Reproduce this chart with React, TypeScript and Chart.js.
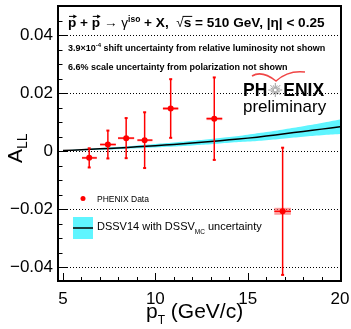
import { useEffect, useRef } from "react";
import { Chart, registerables } from "chart.js";
Chart.register(...registerables);

// ---- data ----
const ptValues = [6.42, 7.43, 8.42, 9.42, 10.83, 13.19, 16.89];
const allValues = [-0.0023, 0.0023, 0.0045, 0.0038, 0.0147, 0.0112, -0.0207];
const statErr = [0.0033, 0.0048, 0.0069, 0.0096, 0.0101, 0.0142, 0.0219];
const binLow = [6.03, 7.01, 7.98, 9.03, 10.41, 12.77, 16.44];
const binHigh = [6.83, 7.86, 8.85, 9.84, 11.24, 13.62, 17.34];
const sysErr = [0.0004, 0.0004, 0.0004, 0.0004, 0.0005, 0.0005, 0.0012];

const theoryPt = [5, 6, 7, 8, 9, 10, 11, 12, 13, 14, 15, 16, 17, 18, 19, 20];
const theoryAll = [0.0002, 0.0005, 0.0008, 0.0011, 0.0015, 0.0019, 0.0023, 0.0028, 0.0033, 0.0039, 0.0045, 0.0052, 0.006, 0.0068, 0.0076, 0.0084];
const theoryUnc = [0.0001, 0.0002, 0.0003, 0.0004, 0.0005, 0.0006, 0.0007, 0.0008, 0.0009, 0.001, 0.0012, 0.0014, 0.0016, 0.0018, 0.0021, 0.0025];

const xMin = 4.73;
const xMax = 20.05;
const yMin = -0.0447;
const yMax = 0.05;
const yMajorTicks = [-0.04, -0.02, 0, 0.02, 0.04];
const yMinorTicks = [-0.035, -0.03, -0.025, -0.015, -0.01, -0.005, 0.005, 0.01, 0.015, 0.025, 0.03, 0.035, 0.045];
const xMajorTicks = [5, 10, 15, 20];
const xMinorTicks = [6, 7, 8, 9, 11, 12, 13, 14, 16, 17, 18, 19];

const FONT = '"Liberation Sans", Arial, Helvetica, sans-serif';
const RED = "#ff0000";
const CYAN = "rgb(95,245,255)";

type Seg = { t: string; size: number; bold?: boolean; dy?: number; arrow?: boolean; overline?: boolean };

function drawRich(ctx: CanvasRenderingContext2D, segs: Seg[], x: number, y: number) {
  let cx = x;
  ctx.textBaseline = "alphabetic";
  ctx.textAlign = "left";
  for (const s of segs) {
    ctx.font = `${s.bold ? "bold " : ""}${s.size}px ${FONT}`;
    const w = ctx.measureText(s.t).width;
    const yy = y + (s.dy || 0);
    ctx.fillText(s.t, cx, yy);
    if (s.arrow) {
      const ay = yy - s.size * 0.78;
      ctx.save();
      ctx.lineWidth = 1;
      ctx.beginPath();
      ctx.moveTo(cx + 1, ay);
      ctx.lineTo(cx + w, ay);
      ctx.stroke();
      ctx.beginPath();
      ctx.moveTo(cx + w + 0.5, ay);
      ctx.lineTo(cx + w - 3, ay - 2);
      ctx.lineTo(cx + w - 3, ay + 2);
      ctx.closePath();
      ctx.fill();
      ctx.restore();
    }
    if (s.overline) {
      const oy = yy - s.size * 0.78;
      ctx.save();
      ctx.lineWidth = 1;
      ctx.beginPath();
      ctx.moveTo(cx - 1, oy);
      ctx.lineTo(cx + w + 1, oy);
      ctx.stroke();
      ctx.restore();
    }
    cx += w;
  }
  return cx;
}

const decor = {
  id: "decor",
  beforeDatasetsDraw(chart: any) {
    const { ctx, chartArea: a, scales } = chart;
    const ys = scales.y;
    ctx.save();
    ctx.strokeStyle = "#000";
    ctx.lineWidth = 1;
    ctx.setLineDash([1, 2]);
    for (const v of yMajorTicks) {
      const py = Math.round(ys.getPixelForValue(v)) + 0.5;
      ctx.beginPath();
      ctx.moveTo(a.left, py);
      ctx.lineTo(a.right, py);
      ctx.stroke();
    }
    ctx.restore();
  },
  beforeDatasetDraw(chart: any, args: any) {
    if (args.index !== 0) return;
    const { ctx, scales } = chart;
    const xs = scales.x;
    const ys = scales.y;
    ctx.save();
    for (let i = 0; i < ptValues.length; i++) {
      const px = xs.getPixelForValue(ptValues[i]);
      const py = ys.getPixelForValue(allValues[i]);
      const xl = xs.getPixelForValue(binLow[i]);
      const xr = xs.getPixelForValue(binHigh[i]);
      const st = ys.getPixelForValue(allValues[i] + sysErr[i]);
      const sb = ys.getPixelForValue(allValues[i] - sysErr[i]);
      ctx.fillStyle = "rgba(255,90,90,0.6)";
      ctx.fillRect(xl, st, xr - xl, sb - st);
      ctx.strokeStyle = RED;
      ctx.lineWidth = 1.3;
      ctx.beginPath();
      ctx.moveTo(xl, py);
      ctx.lineTo(xr, py);
      ctx.stroke();
      const et = ys.getPixelForValue(allValues[i] + statErr[i]);
      const eb = ys.getPixelForValue(allValues[i] - statErr[i]);
      ctx.lineWidth = 1.5;
      ctx.beginPath();
      ctx.moveTo(px, et);
      ctx.lineTo(px, eb);
      ctx.stroke();
      ctx.fillStyle = RED;
      ctx.fillRect(px - 1.5, et - 1, 3, 2);
      ctx.fillRect(px - 1.5, eb - 1, 3, 2);
    }
    ctx.restore();
  },
  afterDraw(chart: any) {
    const { ctx, chartArea: a, scales } = chart;
    const xs = scales.x;
    const ys = scales.y;
    ctx.save();
    // frame
    ctx.strokeStyle = "#000";
    ctx.lineWidth = 2;
    ctx.strokeRect(a.left, a.top, a.right - a.left, a.bottom - a.top);
    // ticks
    ctx.lineWidth = 1;
    ctx.beginPath();
    for (const v of yMajorTicks) {
      const py = Math.round(ys.getPixelForValue(v)) + 0.5;
      ctx.moveTo(a.left, py);
      ctx.lineTo(a.left + 9, py);
    }
    for (const v of yMinorTicks) {
      const py = Math.round(ys.getPixelForValue(v)) + 0.5;
      ctx.moveTo(a.left, py);
      ctx.lineTo(a.left + 4.5, py);
    }
    for (const v of xMajorTicks) {
      const px = Math.round(xs.getPixelForValue(v)) + 0.5;
      ctx.moveTo(px, a.bottom);
      ctx.lineTo(px, a.bottom - 8);
    }
    for (const v of xMinorTicks) {
      const px = Math.round(xs.getPixelForValue(v)) + 0.5;
      ctx.moveTo(px, a.bottom);
      ctx.lineTo(px, a.bottom - 4);
    }
    ctx.stroke();

    ctx.fillStyle = "#000";
    // x axis title
    drawRich(ctx, [
      { t: "p", size: 21 },
      { t: "T", size: 12, dy: 6 },
      { t: " (GeV/c)", size: 21 },
    ], 146, 318);
    // y axis title
    ctx.save();
    ctx.translate(22, 163);
    ctx.rotate(-Math.PI / 2);
    drawRich(ctx, [
      { t: "A", size: 21 },
      { t: "LL", size: 14, dy: 5 },
    ], 0, 0);
    ctx.restore();

    // header texts
    drawRich(ctx, [
      { t: "p", size: 13.6, bold: true, arrow: true },
      { t: " + ", size: 13.6, bold: true },
      { t: "p", size: 13.6, bold: true, arrow: true },
      { t: " \u2192 ", size: 13.6 },
      { t: "\u03b3", size: 13.6 },
      { t: "iso", size: 8.5, bold: true, dy: -5 },
      { t: " + X,  ", size: 13.6, bold: true },
      { t: "\u221a", size: 13.6 },
      { t: "s", size: 13.6, bold: true, overline: true },
      { t: " = 510 GeV, |\u03b7| < 0.25", size: 13.6, bold: true },
    ], 68, 27);
    drawRich(ctx, [
      { t: "3.9\u00d710", size: 9, bold: true },
      { t: "-4", size: 6, bold: true, dy: -4 },
      { t: " shift uncertainty from relative luminosity not shown", size: 9, bold: true },
    ], 68, 50.5);
    drawRich(ctx, [
      { t: "6.6% scale uncertainty from polarization not shown", size: 9, bold: true },
    ], 68, 69.5);

    // PHENIX logo
    const lx = drawRich(ctx, [{ t: "PH", size: 17.5, bold: true }], 243, 96);
    const sc = lx + 8;
    ctx.save();
    ctx.strokeStyle = "#888";
    ctx.lineWidth = 0.8;
    ctx.beginPath();
    for (let k = 0; k < 16; k++) {
      const ang = (k * Math.PI) / 8;
      const r = k % 2 === 0 ? 7 : 5;
      ctx.moveTo(sc + Math.cos(ang) * 1.5, 90 + Math.sin(ang) * 1.5);
      ctx.lineTo(sc + Math.cos(ang) * r, 90 + Math.sin(ang) * r);
    }
    ctx.stroke();
    ctx.strokeStyle = "rgb(240,70,70)";
    ctx.lineWidth = 1.5;
    ctx.beginPath();
    ctx.moveTo(252, 76);
    ctx.quadraticCurveTo(262, 70, 276, 81);
    ctx.quadraticCurveTo(288, 70, 305, 72);
    ctx.stroke();
    ctx.restore();
    drawRich(ctx, [{ t: "ENIX", size: 17.5, bold: true }], sc + 8, 96);
    drawRich(ctx, [{ t: "preliminary", size: 17 }], 243, 112);

    // legend
    ctx.fillStyle = RED;
    ctx.beginPath();
    ctx.arc(83, 198.5, 2.5, 0, Math.PI * 2);
    ctx.fill();
    ctx.fillStyle = CYAN;
    ctx.fillRect(73, 217, 20, 22);
    ctx.strokeStyle = "#000";
    ctx.lineWidth = 1.5;
    ctx.beginPath();
    ctx.moveTo(73, 228);
    ctx.lineTo(93, 228);
    ctx.stroke();
    ctx.fillStyle = "#000";
    drawRich(ctx, [{ t: "PHENIX Data", size: 8.5 }], 97, 202);
    drawRich(ctx, [
      { t: "DSSV14 with DSSV", size: 11 },
      { t: "MC", size: 6.5, dy: 4 },
      { t: " uncertainty", size: 11 },
    ], 97, 230);
    ctx.restore();
  },
};

const zeroPad = (s: any) => {
  s.paddingTop = 0;
  s.paddingBottom = 0;
  s.paddingLeft = 0;
  s.paddingRight = 0;
};

export default function App() {
  const ref = useRef<HTMLCanvasElement>(null);
  useEffect(() => {
    const canvas = ref.current!;
    const upper = theoryPt.map((x, i) => ({ x, y: theoryAll[i] + theoryUnc[i] }));
    const lower = theoryPt.map((x, i) => ({ x, y: theoryAll[i] - theoryUnc[i] }));
    const central = theoryPt.map((x, i) => ({ x, y: theoryAll[i] }));
    const points = ptValues.map((x, i) => ({ x, y: allValues[i] }));
    const chart = new Chart(canvas, {
      type: "scatter",
      data: {
        datasets: [
          { data: points, pointRadius: 3, pointBackgroundColor: RED, pointBorderWidth: 0, showLine: false },
          { data: central, showLine: true, borderColor: "#000", borderWidth: 1.5, pointRadius: 0, tension: 0.4, fill: false },
          { data: upper, showLine: true, borderWidth: 0, borderColor: CYAN, backgroundColor: CYAN, pointRadius: 0, tension: 0.4, fill: "+1" },
          { data: lower, showLine: true, borderWidth: 0, borderColor: CYAN, pointRadius: 0, tension: 0.4, fill: false },
        ],
      },
      options: {
        responsive: false,
        animation: false,
        layout: { padding: { top: 6, right: 10, left: 0, bottom: 0 } },
        plugins: { legend: { display: false }, tooltip: { enabled: false } },
        scales: {
          x: {
            type: "linear",
            min: xMin,
            max: xMax,
            grid: { display: false, drawTicks: false },
            border: { display: false },
            afterBuildTicks: (s: any) => { s.ticks = xMajorTicks.map((v) => ({ value: v })); },
            afterFit: (s: any) => { s.height = 48; zeroPad(s); },
            ticks: { font: { family: FONT, size: 17 }, color: "#000", padding: 8, maxRotation: 0, autoSkip: false, callback: (v: any) => String(v) },
          },
          y: {
            type: "linear",
            min: yMin,
            max: yMax,
            grid: { display: false, drawTicks: false },
            border: { display: false },
            afterBuildTicks: (s: any) => { s.ticks = yMajorTicks.map((v) => ({ value: v })); },
            afterFit: (s: any) => { s.width = 58; zeroPad(s); },
            ticks: {
              font: { family: FONT, size: 17 },
              color: "#000",
              padding: 5,
              autoSkip: false,
              callback: (v: any) => (v === 0 ? "0" : v < 0 ? "\u2212" + Math.abs(v).toFixed(2) : Number(v).toFixed(2)),
            },
          },
        },
      },
      plugins: [decor],
    });
    return () => chart.destroy();
  }, []);
  return (
    <div style={{ position: "fixed", left: 0, top: 0, width: 351, height: 329, background: "#fff" }}>
      <canvas ref={ref} width={351} height={329} style={{ width: 351, height: 329, display: "block" }} />
    </div>
  );
}
